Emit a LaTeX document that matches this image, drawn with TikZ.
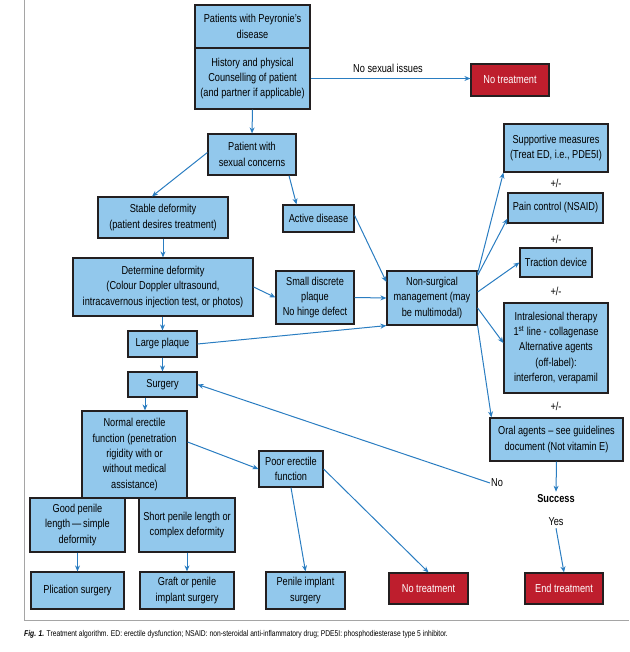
\documentclass[tikz,border=0pt]{standalone}
\usepackage{fontspec}
\setmainfont[FakeStretch=0.8]{Liberation Sans}
\usetikzlibrary{arrows.meta,calc}
\definecolor{boxblue}{RGB}{146,200,236}
\definecolor{arrblue}{RGB}{42,125,193}
\definecolor{boxred}{RGB}{190,30,45}
\definecolor{edgecol}{RGB}{35,31,32}
\definecolor{framecol}{RGB}{165,165,165}
\begin{document}
\begin{tikzpicture}[x=1pt,y=-1pt,
  box/.style={draw=edgecol,line width=1.2pt,fill=boxblue,align=center,inner sep=0pt,font=\fontsize{11.5}{15.3}\selectfont},
  redbox/.style={box,fill=boxred,text=white},
  arr/.style={draw=arrblue,line width=1pt,-{Stealth[length=6pt,width=5pt]}},
  lbl/.style={font=\fontsize{11.5}{13}\selectfont,inner sep=1pt}]
\useasboundingbox (0,0) rectangle (629,652);
\draw[framecol,line width=1pt] (24,0) -- (24,620) -- (629,620);

% left / centre column
\node[box,minimum width=115pt,minimum height=43pt] (pd) at (252.5,26.5) {Patients with Peyronie's\\disease};
\node[box,minimum width=115pt,minimum height=61pt] (hist) at (252.5,78.5) {History and physical\\Counselling of patient\\(and partner if applicable)};
\node[redbox,minimum width=78pt,minimum height=32pt] (ntr1) at (510,80) {No treatment};
\node[box,minimum width=88pt,minimum height=41pt] (psc) at (252,154.5) {Patient with\\sexual concerns};
\node[box,minimum width=130pt,minimum height=41pt] (stab) at (163,217.5) {Stable deformity\\(patient desires treatment)};
\node[box,minimum width=71pt,minimum height=27pt] (act) at (318.5,218.5) {Active disease};
\node[box,minimum width=180pt,minimum height=58pt] (det) at (163,287) {Determine deformity\\(Colour Doppler ultrasound,\\intracavernous injection test, or photos)};
\node[box,minimum width=78pt,minimum height=53pt] (sdp) at (315,297.5) {Small discrete\\plaque\\No hinge defect};
\node[box,minimum width=90pt,minimum height=54pt] (nsm) at (432,298) {Non-surgical\\management (may\\be multimodal)};
\node[box,minimum width=69pt,minimum height=26pt] (lp) at (162.5,344) {Large plaque};
\node[box,minimum width=69pt,minimum height=25pt] (surg) at (162.5,384.5) {Surgery};
\node[box,minimum width=105pt,minimum height=87pt] (norm) at (134.5,454.5) {Normal erectile\\function (penetration\\rigidity with or\\without medical\\assistance)};
\node[box,minimum width=64pt,minimum height=36pt] (poor) at (291,469) {Poor erectile\\function};
\node[box,minimum width=95pt,minimum height=54pt] (good) at (77.5,525) {Good penile\\length\,---\,simple\\deformity};
\node[box,minimum width=96pt,minimum height=54pt] (short) at (187,525) {Short penile length or\\complex deformity};
\node[box,minimum width=93pt,minimum height=37pt] (plic) at (77.5,590.5) {Plication surgery};
\node[box,minimum width=94pt,minimum height=37pt] (graft) at (187,590.5) {Graft or penile\\implant surgery};
\node[box,minimum width=79pt,minimum height=37pt] (impl) at (305.5,590.5) {Penile implant\\surgery};
\node[redbox,minimum width=79pt,minimum height=31pt] (ntr2) at (428.5,588.5) {No treatment};
\node[redbox,minimum width=78pt,minimum height=31pt] (endt) at (564,588.5) {End treatment};

% right column
\node[box,minimum width=104pt,minimum height=48pt] (supp) at (556,148) {Supportive measures\\(Treat ED, i.e., PDE5I)};
\node[box,minimum width=95pt,minimum height=30pt] (pain) at (555.5,208) {Pain control (NSAID)};
\node[box,minimum width=72pt,minimum height=29pt] (trac) at (556,262.5) {Traction device};
\node[box,minimum width=104pt,minimum height=90pt] (intra) at (556,348) {Intralesional therapy\\1\textsuperscript{st} line - collagenase\\Alternative agents\\(off-label):\\interferon, verapamil};
\node[box,minimum width=133pt,minimum height=43pt] (oral) at (556.5,439.5) {Oral agents -- see guidelines\\document (Not vitamin E)};

% labels
\node[lbl] (nsi) at (388,68) {No sexual issues};
\node[lbl] (pm1) at (556,183) {+/-};
\node[lbl] (pm2) at (556,239) {+/-};
\node[lbl] (pm3) at (556,291) {+/-};
\node[lbl] (pm4) at (556,406) {+/-};
\node[lbl,font=\fontsize{11.5}{13}\bfseries,inner sep=3pt] (succ) at (556,499) {Success};
\node[lbl,inner sep=2pt] (yes) at (556,522) {Yes};
\node[lbl] (no) at (497,483) {No};

% connectors
\draw[arr] (hist.south) -- (psc.north);
\draw[arr] (hist.east) -- (hist.east -| ntr1.west);
\draw[arr] ([yshift=2pt]psc.west) -- ([xshift=-11pt]stab.north);
\draw[arr] ([xshift=37pt]psc.south) -- ([xshift=-22pt]act.north);
\draw[arr] (stab.south) -- (stab.south |- det.north);
\draw[arr] (det.east) -- (sdp.west);
\draw[arr] (det.south -| lp.north) -- (lp.north);
\draw[arr] (lp.south) -- (surg.north);
\draw[arr] (lp.east) -- (nsm.south west);
\draw[arr] ([yshift=3pt]act.east) -- ([yshift=16pt]nsm.west);
\draw[arr] (sdp.east) -- (nsm.west);
\draw[arr] ([xshift=-17.5pt]surg.south) -- ([xshift=10.5pt]norm.north);
\draw[arr] ([yshift=12.5pt]norm.east) -- (poor.west);
\draw[arr] (poor.south) -- (impl.north);
\draw[arr] (poor.east) -- (ntr2.north);
\draw[arr] (good.south) -- (plic.north);
\draw[arr] (short.south) -- (graft.north);
\draw[arr] ([yshift=-3pt]nsm.north east) -- (supp.south west);
\draw[arr] ([yshift=-5pt]nsm.north east) -- ([yshift=5pt]pain.south west);
\draw[arr] ([yshift=6pt]nsm.east) -- (trac.west);
\draw[arr] ([yshift=-10pt]nsm.east) -- ([yshift=5pt]intra.west);
\draw[arr] (nsm.south east) -- ([xshift=2pt]oral.north west);
\draw[arr] (oral.south) -- (succ.north);
\draw[arr] (yes.south) -- (endt.north);
\draw[arr] (no.west) -- (surg.east);

% caption
\node[anchor=base west,inner sep=0pt,font=\fontsize{8.4}{10}\selectfont] (cap) at (24,636) {\textbf{\textit{Fig. 1.}} Treatment algorithm. ED: erectile dysfunction; NSAID: non-steroidal anti-inflammatory drug; PDE5I: phosphodiesterase type 5 inhibitor.};
\end{tikzpicture}
\end{document}
